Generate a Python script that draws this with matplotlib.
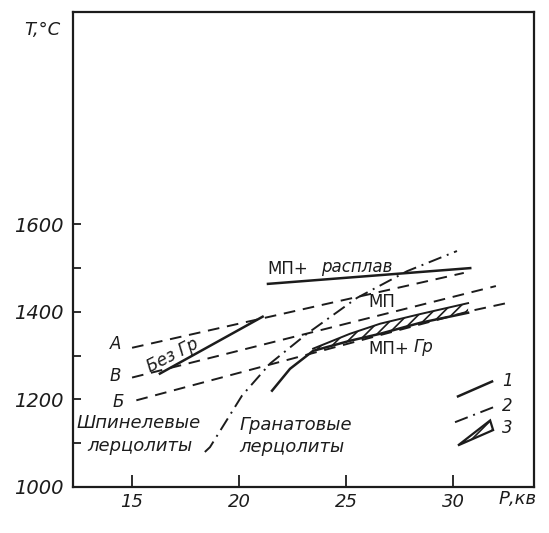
import matplotlib
matplotlib.use("Agg")
import matplotlib.pyplot as plt
from matplotlib.ticker import FixedLocator, FuncFormatter
import numpy as np

plt.rcParams['font.family'] = ['DejaVu Sans']
plt.rcParams['hatch.linewidth'] = 1.2

# ---- data (P in kbar, T in °C) ----
line_A_P = [15.0, 30.5]
line_A_T = [1318, 1489]
line_B_P = [15.0, 32.0]
line_B_T = [1250, 1459]
line_Bb_P = [15.2, 30.8, 32.5]
line_Bb_T = [1198, 1402, 1420]

bez_gr_P = [16.3, 21.1]
bez_gr_T = [1259, 1389]

melt_P = [21.35, 30.8]
melt_T = [1464, 1500]

curve_P = [21.54, 22.38, 23.46, 25.18, 26.59, 28.46, 30.70]
curve_T = [1220, 1270, 1311, 1334, 1350, 1375, 1398]

band_top_P = [23.46, 25.18, 26.59, 28.46, 30.70]
band_top_T = [1316, 1350, 1373, 1395, 1420]

sp_gt_P = [18.4, 18.64, 20.14, 21.45, 23.17, 25.51, 27.85, 30.18]
sp_gt_T = [1080, 1091, 1209, 1282, 1350, 1432, 1493, 1539]

xticks = [15, 20, 25, 30]
xtick_labels = ["15", "20", "25", "30"]
yticks = [1000, 1100, 1200, 1300, 1400, 1500, 1600]
ytick_labels = {1000: "1000", 1200: "1200", 1400: "1400", 1600: "1600"}

leg1_P = [30.23, 31.82]
leg1_T = [1207, 1241]
leg2_P = [30.09, 31.87]
leg2_T = [1148, 1182]
leg3_P = [30.23, 31.73, 31.87]
leg3_T = [1095, 1152, 1130]

ink = "#1c1c1c"

fig = plt.figure(figsize=(5.49, 5.33), dpi=100)
ax = fig.add_axes([73/549, 46/533, 461/549, 475/533])
ax.set_xlim(12.24, 33.78)
ax.set_ylim(1000, 2085)

for s in ax.spines.values():
    s.set_linewidth(1.6)
    s.set_color(ink)

dash = (0, (6, 4))
dashdot = (0, (7, 3, 1, 3))

ax.plot(line_A_P, line_A_T, color=ink, lw=1.4, linestyle=dash)
ax.plot(line_B_P, line_B_T, color=ink, lw=1.4, linestyle=dash)
ax.plot(line_Bb_P, line_Bb_T, color=ink, lw=1.4, linestyle=dash)
ax.plot(bez_gr_P, bez_gr_T, color=ink, lw=1.8)
ax.plot(melt_P, melt_T, color=ink, lw=1.8)
ax.plot(curve_P, curve_T, color=ink, lw=1.8)
ax.plot(band_top_P, band_top_T, color=ink, lw=1.4)
ax.plot(sp_gt_P, sp_gt_T, color=ink, lw=1.4, linestyle=dashdot)

# hatched band between the solid curve and its upper edge
top_i = np.interp(curve_P[2:], band_top_P, band_top_T)
ax.fill_between(curve_P[2:], curve_T[2:], top_i, facecolor="none",
                edgecolor=ink, hatch="///", linewidth=0)

# legend sketch
ax.plot(leg1_P, leg1_T, color=ink, lw=1.8)
ax.plot(leg2_P, leg2_T, color=ink, lw=1.4, linestyle=dashdot)
ax.fill(leg3_P, leg3_T, facecolor="none", edgecolor=ink, hatch="///", lw=1.6)

# ticks
ax.xaxis.set_major_locator(FixedLocator(xticks))
ax.set_xticklabels(xtick_labels)
ax.yaxis.set_major_locator(FixedLocator(yticks))
ax.yaxis.set_major_formatter(FuncFormatter(lambda v, p: ytick_labels.get(int(round(v)), "")))
ax.tick_params(axis="x", direction="in", length=8.5, width=1.3, colors=ink,
               labelsize=13, pad=4, top=False)
ax.tick_params(axis="y", direction="in", length=6, width=1.3, colors=ink,
               labelsize=14, pad=7, right=False)
for lab in ax.get_xticklabels() + ax.get_yticklabels():
    lab.set_fontstyle("italic")

fs = 12
kw = dict(color=ink, fontstyle="italic", fontsize=fs, ha="center", va="center")
kw13 = dict(kw, fontsize=13)
ax.text(14.25, 1327, "А", **kw)
ax.text(14.2, 1254, "В", **kw)
ax.text(14.34, 1194, "Б", **kw)
ax.text(16.9, 1300, "Без Гр", rotation=27, **kw)
ax.text(21.3, 1498, "МП+", color=ink, fontsize=fs, ha="left", va="center")
ax.text(25.5, 1502, "расплав", **kw)
ax.text(26.68, 1423, "МП", color=ink, fontsize=fs, ha="center", va="center")
ax.text(27.0, 1316, "МП+", color=ink, fontsize=fs, ha="center", va="center")
ax.text(28.6, 1320, "Гр", **kw)
ax.text(15.32, 1146, "Шпинелевые", **kw13)
ax.text(15.37, 1094, "лерцолиты", **kw13)
ax.text(22.66, 1141, "Гранатовые", **kw13)
ax.text(22.47, 1091, "лерцолиты", **kw13)
ax.text(32.52, 1243, "1", **kw)
ax.text(32.52, 1186, "2", **kw)
ax.text(32.52, 1134, "3", **kw)

fig.text(42/549, 1 - 30/533, "T,°C", color=ink, fontstyle="italic",
         fontsize=13, ha="center", va="center")
fig.text(518/549, 1 - 499/533, "Р,кв", color=ink, fontstyle="italic",
         fontsize=13, ha="center", va="center")

fig.savefig("out.png", dpi=100)
